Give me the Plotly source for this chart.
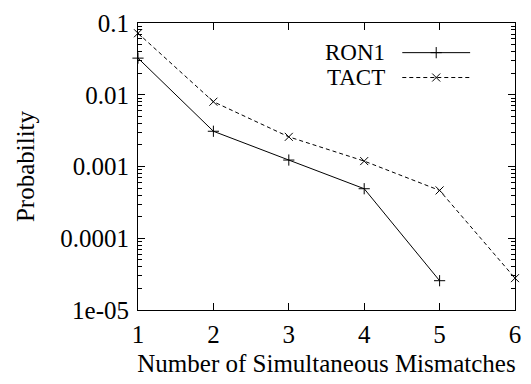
import plotly.graph_objects as go

# ---- data ----
mismatches = [1, 2, 3, 4, 5, 6]
ron1 = [0.0324, 0.0031, 0.00123, 0.00049, 0.0000256]
tact = [0.072, 0.0080, 0.00259, 0.00119, 0.000464, 0.0000278]
series_names = ["RON1", "TACT"]
ytick_vals = [1e-5, 1e-4, 1e-3, 1e-2, 1e-1]
ytick_text = ["1e-05", "0.0001", "0.001", "0.01", "0.1"]
xtick_vals = [1, 2, 3, 4, 5, 6]

FONT = "Liberation Serif"
FS = 25
KEY_FS = 23
BLACK = "black"

fig = go.Figure()

fig.add_trace(go.Scatter(
    x=mismatches[:len(ron1)], y=ron1, name=series_names[0], mode="lines+markers",
    line=dict(color=BLACK, width=1),
    marker=dict(symbol="cross-thin", size=8, line=dict(color=BLACK, width=1)),
    showlegend=False, cliponaxis=False,
))
fig.add_trace(go.Scatter(
    x=mismatches[:len(tact)], y=tact, name=series_names[1], mode="lines+markers",
    line=dict(color=BLACK, width=1, dash="4px,3px"),
    marker=dict(symbol="x-thin", size=8, line=dict(color=BLACK, width=1)),
    showlegend=False, cliponaxis=False,
))

# ---- custom gnuplot-style key (text left of sample) on an overlay axis ----
key_text_x = 0.659
key_line_x0, key_line_x1 = 0.701, 0.881
key_rows_y = [0.8967, 0.81]
key_styles = [(None, "cross-thin"), ("4px,3px", "x-thin")]
for name, ky, (dash, sym) in zip(series_names, key_rows_y, key_styles):
    fig.add_trace(go.Scatter(
        x=[key_line_x0, key_line_x1], y=[ky, ky], mode="lines",
        line=dict(color=BLACK, width=1, dash=dash),
        xaxis="x2", yaxis="y2", showlegend=False, hoverinfo="skip",
    ))
    fig.add_trace(go.Scatter(
        x=[(key_line_x0 + key_line_x1) / 2], y=[ky], mode="markers",
        marker=dict(symbol=sym, size=8, line=dict(color=BLACK, width=1)),
        xaxis="x2", yaxis="y2", showlegend=False, hoverinfo="skip",
    ))
    fig.add_annotation(
        x=key_text_x, y=ky, xref="x2", yref="y2", text=name, showarrow=False,
        xanchor="right", yanchor="middle", borderpad=0,
        font=dict(family=FONT, size=KEY_FS, color=BLACK),
    )

axis_common = dict(
    showgrid=False, zeroline=False, showline=True, linecolor=BLACK, linewidth=1,
    mirror="allticks", ticks="inside", tickcolor=BLACK, tickwidth=1,
    tickfont=dict(family=FONT, size=FS, color=BLACK),
    ticklabeloverflow="allow",
)

fig.update_layout(
    width=531, height=384,
    margin=dict(l=138, r=15, t=10, b=74),
    paper_bgcolor="white", plot_bgcolor="white",
    font=dict(family=FONT, size=FS, color=BLACK),
    showlegend=False,
    xaxis=dict(
        **axis_common, range=[1, 6], tickvals=xtick_vals, ticklen=7,
        ticklabelstandoff=2,
        title=dict(text="Number of Simultaneous Mismatches", standoff=7,
                   font=dict(family=FONT, size=FS, color=BLACK)),
    ),
    yaxis=dict(
        **axis_common, type="log", range=[-5.0002, -0.9998], tickvals=ytick_vals,
        ticktext=ytick_text, ticklen=7, ticklabelstandoff=3,
        minor=dict(ticks="inside", ticklen=4, tickcolor=BLACK, tickwidth=1,
                   dtick="D1", showgrid=False),
        title=dict(text="Probability", standoff=18,
                   font=dict(family=FONT, size=FS, color=BLACK)),
    ),
    xaxis2=dict(overlaying="x", range=[0, 1], visible=False),
    yaxis2=dict(overlaying="y", range=[0, 1], visible=False),
)

fig.write_html(
    "out.html",
    config={"displayModeBar": False},
    post_script="document.body.style.margin='0';document.body.style.overflow='hidden';",
)
